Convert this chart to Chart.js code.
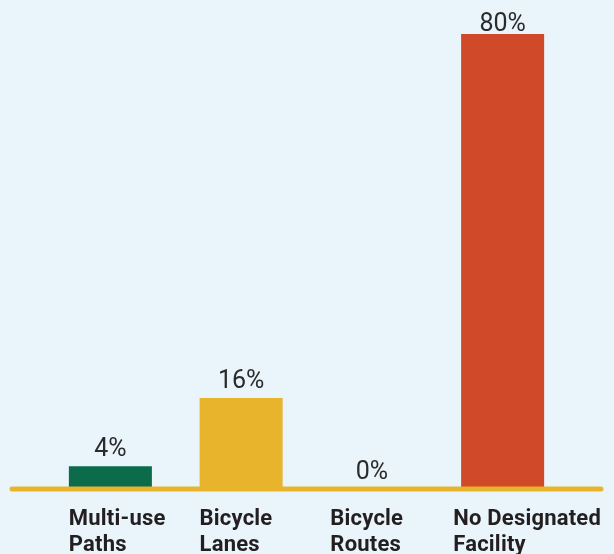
<!DOCTYPE html>
<html lang="en">
<head>
    <meta charset="UTF-8">
    <title>Bicycle Facility Share</title>
    <script src="https://cdn.jsdelivr.net/npm/chart.js"></script>
    <style>
        html, body {
            margin: 0;
            padding: 0;
            background-color: #e9f5fb;
        }
        #facilityChart {
            display: block;
        }
    </style>
</head>
<body>
    <canvas id="facilityChart" width="614" height="554"></canvas>

    <script>
        // data
        const categories = [['Multi-use', 'Paths'], ['Bicycle', 'Lanes'], ['Bicycle', 'Routes'], ['No Designated', 'Facility']];
        const shares = [4, 16, 0, 80];
        const valueLabels = ['4%', '16%', '0%', '80%'];
        const barColors = ['#0b6b4a', '#e8b42c', '#e8b42c', '#d04a2a'];

        const lineColor = '#e8b42c';

        // baseline, value labels and two-line category labels
        const decorations = {
            id: 'decorations',
            afterDatasetsDraw(chart) {
                const ctx = chart.ctx;
                const y = chart.scales.y;
                const meta = chart.getDatasetMeta(0);
                const zeroY = y.getPixelForValue(0);

                ctx.save();
                ctx.strokeStyle = lineColor;
                ctx.lineWidth = 5;
                ctx.lineCap = 'round';
                ctx.beginPath();
                ctx.moveTo(12, zeroY);
                ctx.lineTo(601, zeroY);
                ctx.stroke();

                ctx.fillStyle = '#2b2b2b';
                ctx.font = '400 25px Roboto';
                ctx.textAlign = 'center';
                ctx.textBaseline = 'alphabetic';
                meta.data.forEach((bar, i) => {
                    const top = y.getPixelForValue(shares[i]);
                    ctx.fillText(valueLabels[i], bar.x, Math.max(top - 10, 31));
                });

                ctx.fillStyle = '#231f20';
                ctx.font = 'bold 22px Roboto';
                ctx.letterSpacing = '0.2px';
                ctx.textAlign = 'left';
                meta.data.forEach((bar, i) => {
                    const lines = categories[i];
                    let left = bar.x - bar.width / 2;
                    const w = Math.max(...lines.map(l => ctx.measureText(l).width));
                    if (left + w > 601) left = 601 - w;
                    lines.forEach((line, j) => {
                        ctx.fillText(line, left, 525 + j * 26);
                    });
                });
                ctx.restore();
            }
        };

        new Chart(document.getElementById('facilityChart'), {
            type: 'bar',
            data: {
                labels: categories,
                datasets: [{
                    data: shares,
                    backgroundColor: barColors,
                    borderWidth: 0,
                    barPercentage: 0.635,
                    categoryPercentage: 1
                }]
            },
            options: {
                responsive: false,
                animation: false,
                layout: {
                    padding: { left: 45, right: 46, top: 0, bottom: 65 }
                },
                plugins: {
                    legend: { display: false },
                    tooltip: { enabled: false }
                },
                scales: {
                    x: { display: false },
                    y: { display: false, min: 0, max: 86 }
                }
            },
            plugins: [decorations]
        });
    </script>
</body>
</html>
